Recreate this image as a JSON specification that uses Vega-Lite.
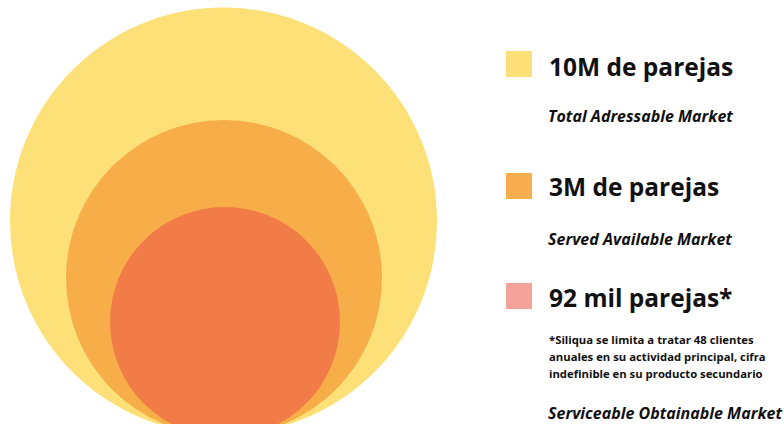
{
  "$schema": "https://vega.github.io/schema/vega-lite/v6.json",
  "width": 784,
  "height": 424,
  "padding": 0,
  "autosize": {"type": "none"},
  "background": "#ffffff",
  "config": {"view": {"stroke": null}, "text": {"font": "Open Sans"}},
  "datasets": {
    "markets": [
      {"market": "TAM", "parejas": 10000000, "label": "10M de parejas", "sub": "Total Adressable Market"},
      {"market": "SAM", "parejas": 3000000, "label": "3M de parejas", "sub": "Served Available Market"},
      {"market": "SOM", "parejas": 92000, "label": "92 mil parejas*", "sub": "Serviceable Obtainable Market"}
    ],
    "nota": [
      {"linea": 1, "texto": "*Siliqua se limita a tratar 48 clientes"},
      {"linea": 2, "texto": "anuales en su actividad principal, cifra"},
      {"linea": 3, "texto": "indefinible en su producto secundario"}
    ]
  },
  "layer": [
    {
      "data": {"name": "markets"},
      "mark": {"type": "point", "shape": "circle", "filled": true, "opacity": 1, "strokeWidth": 0},
      "encoding": {
        "x": {"field": "parejas", "type": "quantitative", "axis": null,
              "scale": {"domain": [92000, 3000000, 10000000], "range": [225, 224, 223.5], "nice": false, "zero": false}},
        "y": {"field": "parejas", "type": "quantitative", "axis": null,
              "scale": {"domain": [92000, 3000000, 10000000], "range": [322, 278, 221], "nice": false, "zero": false}},
        "size": {"field": "parejas", "type": "quantitative", "legend": null,
                 "scale": {"domain": [92000, 3000000, 10000000], "range": [52900, 99856, 182329], "nice": false, "zero": false}},
        "color": {"field": "market", "type": "nominal", "legend": null,
                  "scale": {"domain": ["TAM", "SAM", "SOM"], "range": ["#FDE078", "#F7AD48", "#F27C48"]}}
      }
    },
    {
      "data": {"name": "markets"},
      "mark": {"type": "square", "filled": true, "opacity": 1, "size": 676, "strokeWidth": 0},
      "encoding": {
        "x": {"datum": 0, "type": "quantitative", "axis": null, "scale": {"domain": [0, 1], "range": [519, 520]}},
        "y": {"field": "parejas", "type": "quantitative", "axis": null,
              "scale": {"domain": [92000, 3000000, 10000000], "range": [296, 186, 64], "nice": false, "zero": false}},
        "color": {"field": "market", "type": "nominal", "legend": null,
                  "scale": {"domain": ["TAM", "SAM", "SOM"], "range": ["#FCDF77", "#F8AE4E", "#F4A29A"]}}
      }
    },
    {
      "data": {"name": "markets"},
      "mark": {"type": "text", "align": "left", "baseline": "alphabetic", "fontSize": 24.5, "fontWeight": "bold", "color": "#111111"},
      "encoding": {
        "x": {"datum": 0, "type": "quantitative", "axis": null, "scale": {"domain": [0, 1], "range": [549, 550]}},
        "y": {"field": "parejas", "type": "quantitative", "axis": null,
              "scale": {"domain": [92000, 3000000, 10000000], "range": [307, 196, 76], "nice": false, "zero": false}},
        "text": {"field": "label"}
      }
    },
    {
      "data": {"name": "markets"},
      "mark": {"type": "text", "align": "left", "baseline": "alphabetic", "fontSize": 16, "fontWeight": "bold", "fontStyle": "italic", "color": "#111111"},
      "encoding": {
        "x": {"datum": 0, "type": "quantitative", "axis": null, "scale": {"domain": [0, 1], "range": [548, 549]}},
        "y": {"field": "parejas", "type": "quantitative", "axis": null,
              "scale": {"domain": [92000, 3000000, 10000000], "range": [419, 245, 122], "nice": false, "zero": false}},
        "text": {"field": "sub"}
      }
    },
    {
      "data": {"name": "nota"},
      "mark": {"type": "text", "align": "left", "baseline": "alphabetic", "fontSize": 11.3, "fontWeight": "bold", "color": "#111111"},
      "encoding": {
        "x": {"datum": 0, "type": "quantitative", "axis": null, "scale": {"domain": [0, 1], "range": [549, 550]}},
        "y": {"field": "linea", "type": "quantitative", "axis": null,
              "scale": {"domain": [1, 3], "range": [344, 378], "nice": false, "zero": false}},
        "text": {"field": "texto"}
      }
    }
  ],
  "resolve": {"scale": {"x": "independent", "y": "independent", "color": "independent", "size": "independent"}}
}
